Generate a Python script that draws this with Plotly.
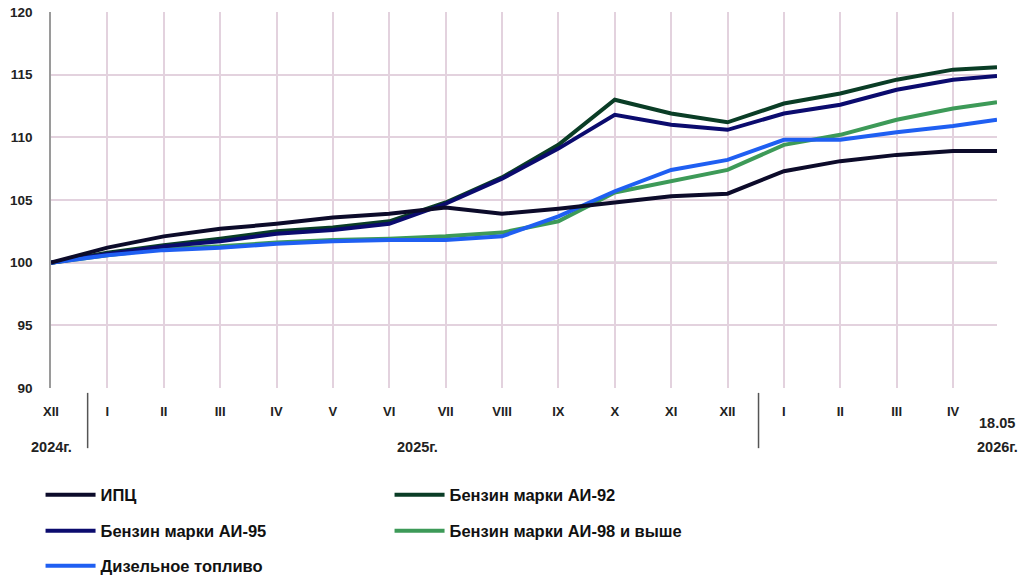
import plotly.graph_objects as go

# x positions: month index (0 = XII 2024 ... 16 = IV 2026), last point = 18.05.2026
x_pos = [0, 1, 2, 3, 4, 5, 6, 7, 8, 9, 10, 11, 12, 13, 14, 15, 16, 16.78]
tick_vals = list(range(17))
tick_text = ["XII", "I", "II", "III", "IV", "V", "VI", "VII", "VIII", "IX", "X", "XI",
             "XII", "I", "II", "III", "IV"]

cpi =    [100, 101.2, 102.1, 102.7, 103.1, 103.6, 103.9, 104.4, 103.9, 104.3, 104.8, 105.3, 105.5, 107.3, 108.1, 108.6, 108.9, 108.9]
ai92 =   [100, 100.8, 101.4, 101.9, 102.5, 102.8, 103.3, 104.8, 106.8, 109.4, 113.0, 111.9, 111.2, 112.7, 113.5, 114.6, 115.4, 115.6]
ai95 =   [100, 100.7, 101.3, 101.7, 102.3, 102.6, 103.1, 104.7, 106.7, 109.1, 111.8, 111.0, 110.6, 111.9, 112.6, 113.8, 114.6, 114.9]
ai98 =   [100, 100.6, 101.1, 101.3, 101.6, 101.8, 101.9, 102.1, 102.4, 103.3, 105.6, 106.5, 107.4, 109.4, 110.2, 111.4, 112.3, 112.8]
diesel = [100, 100.6, 101.0, 101.2, 101.5, 101.7, 101.8, 101.8, 102.1, 103.7, 105.7, 107.4, 108.2, 109.8, 109.8, 110.4, 110.9, 111.4]

names = ["ИПЦ", "Бензин марки АИ-92", "Бензин марки АИ-95", "Бензин марки АИ-98 и выше", "Дизельное топливо"]
colors = ["#0c0b2a", "#0a3d26", "#0b0b6e", "#3d9a58", "#1f5ff2"]
legends = ["legend", "legend", "legend2", "legend2", "legend3"]
series = [cpi, ai92, ai95, ai98, diesel]

FONT = "Liberation Sans, Arial, sans-serif"

fig = go.Figure()
draw_order = [1, 3, 2, 4, 0]
for i in draw_order:
    fig.add_trace(go.Scatter(
        x=x_pos, y=series[i], mode="lines", name=names[i],
        line=dict(color=colors[i], width=4),
        legend=legends[i], legendrank=i + 1,
    ))

grid = "#e3d2de"
fig.update_xaxes(
    range=[0, 16.78], tickvals=tick_vals, ticktext=tick_text,
    showgrid=True, gridcolor=grid, gridwidth=1.5,
    zeroline=False, showline=False, ticks="", automargin=False,
    ticklabelstandoff=14,
    tickfont=dict(family=FONT, size=13, color="#222", weight="bold"),
)
fig.update_yaxes(
    range=[90, 120], dtick=5, tick0=90,
    showgrid=True, gridcolor=grid, gridwidth=1.5,
    zeroline=False, showline=True, linecolor="#9a9a9a", linewidth=1.5,
    ticks="", ticklabelstandoff=14, automargin=False,
    tickfont=dict(family=FONT, size=13.5, color="#222", weight="bold"),
)
fig.add_hline(y=100, line=dict(color="#8c8c8c", width=2), layer="below")

# year separators
for xv in [0.65, 12.55]:
    fig.add_shape(type="line", xref="x", yref="paper", x0=xv, x1=xv, y0=-0.013, y1=-0.16,
                  line=dict(color="#555", width=1.5))

annots = [
    dict(x=0, y=-0.157, text="2024г."),
    dict(x=6.5, y=-0.157, text="2025г."),
    dict(x=16.78, y=-0.157, text="2026г."),
    dict(x=16.78, y=-0.093, text="18.05"),
]
for a in annots:
    fig.add_annotation(x=a["x"], y=a["y"], xref="x", yref="paper", text=a["text"],
                       showarrow=False, xanchor="center", yanchor="middle",
                       font=dict(family=FONT, size=14.5, color="#222", weight="bold"))

leg_font = dict(family=FONT, size=16.5, color="#111", weight="bold")
leg_common = dict(orientation="h", xanchor="left", yanchor="middle", font=leg_font,
                  xref="container", yref="container",
                  entrywidth=284, entrywidthmode="pixels", itemwidth=50,
                  bgcolor="rgba(0,0,0,0)",
                  itemclick=False, itemdoubleclick=False)

fig.update_layout(
    width=1024, height=585,
    margin=dict(l=51, r=27, t=12, b=197),
    paper_bgcolor="white", plot_bgcolor="white",
    font=dict(family=FONT),
    legend=dict(x=0.0396, y=1 - 495 / 585, **leg_common),
    legend2=dict(x=0.0396, y=1 - 531 / 585, **leg_common),
    legend3=dict(x=0.0396, y=1 - 566 / 585, **leg_common),
)

fig.write_html("out.html")
